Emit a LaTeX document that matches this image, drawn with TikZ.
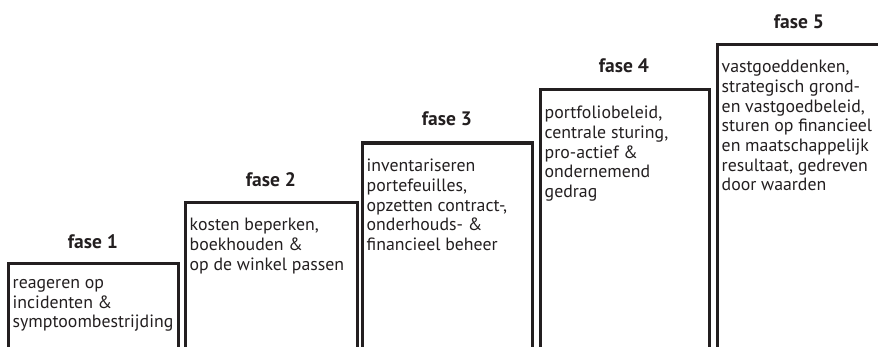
\documentclass[tikz,border=0pt]{standalone}
\usepackage{fontspec}
\setmainfont{PT Sans}
\definecolor{ink}{HTML}{231F20}
\begin{document}
\begin{tikzpicture}[x=1pt,y=1pt,
  stepline/.style={draw=ink,line width=3pt,line join=miter},
  phase/.style={font=\bfseries\fontsize{19.5}{22}\selectfont,text=ink,inner sep=0pt,anchor=center},
  body/.style={font=\fontsize{17.8}{19.7}\selectfont,text=ink,inner sep=0pt,anchor=north west,align=left}]
\useasboundingbox (0,0) rectangle (878,346);
\clip (0,0) rectangle (878,346);
% boxes (open at bottom)
\coordinate (b1bl) at (8,-5);   \coordinate (b1tl) at (8,83);   \coordinate (b1tr) at (178,83);  \coordinate (b1br) at (178,-5);
\coordinate (b2bl) at (185,-5); \coordinate (b2tl) at (185,144); \coordinate (b2tr) at (357,144); \coordinate (b2br) at (357,-5);
\coordinate (b3bl) at (362,-5); \coordinate (b3tl) at (362,203); \coordinate (b3tr) at (532,203); \coordinate (b3br) at (532,-5);
\coordinate (b4bl) at (540,-5); \coordinate (b4tl) at (540,256); \coordinate (b4tr) at (709,256); \coordinate (b4br) at (709,-5);
\coordinate (b5bl) at (717,-5); \coordinate (b5tl) at (717,301); \coordinate (b5tr) at (895,301); \coordinate (b5br) at (895,-5);
\foreach \i in {1,...,5}{
  \draw[stepline] (b\i bl) -- (b\i tl) -- (b\i tr) -- (b\i br);
}
% titles
\node[phase] (f1) at (93,104) {fase 1};
\node[phase] (f2) at (271,166) {fase 2};
\node[phase] (f3) at (447,227) {fase 3};
\node[phase] (f4) at (624,280) {fase 4};
\node[phase] (f5) at (799,324) {fase 5};
% texts
\node[body] (t1) at (12.5,67) {reageren op\\incidenten \&\\symptoombestrijding};
\node[body] (t2) at (189.5,128) {kosten beperken,\\boekhouden \&\\op de winkel passen};
\node[body] (t3) at (366.5,187) {inventariseren\\portefeuilles,\\opzetten contract-,\\onderhouds- \&\\financieel beheer};
\node[body] (t4) at (544.5,240) {portfoliobeleid,\\centrale sturing,\\pro-actief \&\\ondernemend\\gedrag};
\node[body] (t5) at (721.5,286) {vastgoeddenken,\\strategisch grond-\\en vastgoedbeleid,\\sturen op financieel\\en maatschappelijk\\resultaat, gedreven\\door waarden};
\end{tikzpicture}
\end{document}
